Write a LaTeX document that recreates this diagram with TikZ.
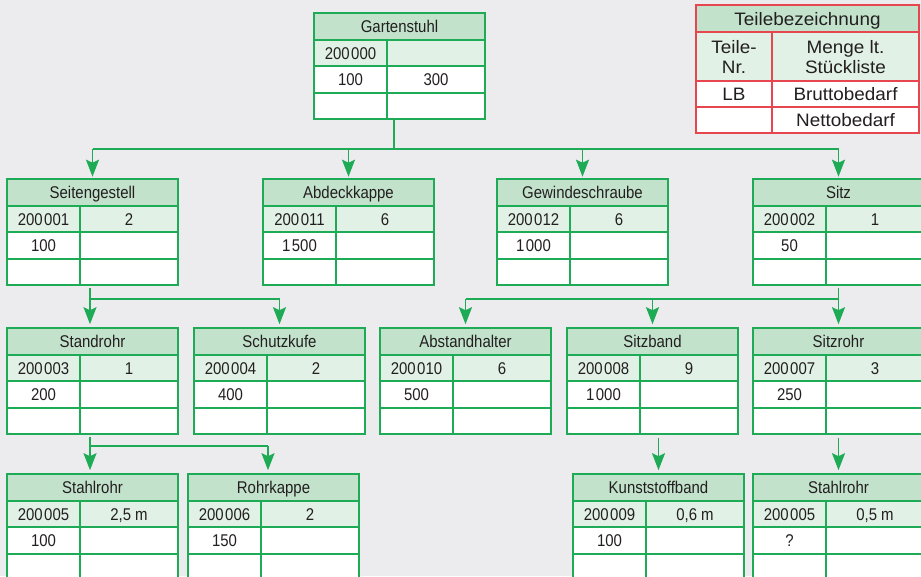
\documentclass[tikz,border=0pt]{standalone}
\usepackage{fontspec}
\setmainfont{Liberation Sans}
\newfontfamily\condfont{Liberation Sans}[FakeStretch=0.88]
\newfontfamily\legfont{Liberation Sans}[FakeStretch=1.05]
\usetikzlibrary{arrows.meta}
\definecolor{grn}{HTML}{1DAB55}
\definecolor{hdr}{HTML}{C2E2CB}
\definecolor{sub}{HTML}{E1F1E5}
\definecolor{bg}{HTML}{ECECEE}
\definecolor{lred}{HTML}{E8464F}
\definecolor{txt}{HTML}{231F20}
\newcommand\pbox[7]{%
  \fill[hdr] (#2,#3) rectangle (#2+171,#3+27);
  \fill[sub] (#2,#3+27) rectangle (#2+171,#3+53);
  \fill[white] (#2,#3+53) rectangle (#2+171,#3+106);
  \draw[gridline] (#2,#3+27) -- (#2+171,#3+27) (#2,#3+53) -- (#2+171,#3+53)
     (#2,#3+80) -- (#2+171,#3+80) (#2+73,#3+27) -- (#2+73,#3+106);
  \node[frame] (#1) at (#2+85.5,#3+53) {};
  \node[bt] (#1-t) at (#2+85.5,#3+13.5) {#4};
  \node[bt] (#1-n) at (#2+36.5,#3+40) {#5};
  \if\relax\detokenize{#6}\relax\else\node[bt] (#1-q) at (#2+122,#3+40) {#6};\fi
  \node[bt] (#1-l) at (#2+36.5,#3+66.5) {#7};
}
\begin{document}
\begin{tikzpicture}[x=1pt,y=-1pt,
  conn/.style={draw=grn, line width=1.6pt},
  arr/.style={conn, -{Stealth[length=17pt,width=13pt,inset=3pt]}, shorten >=3pt},
  gridline/.style={draw=grn, line width=1.4pt},
  frame/.style={draw=grn, line width=1.6pt, inner sep=0pt, minimum width=171pt, minimum height=106pt},
  legline/.style={draw=lred, line width=1.4pt},
  legframe/.style={draw=lred, line width=1.6pt, inner sep=0pt, minimum width=223pt, minimum height=128pt},
  bt/.style={font=\condfont\fontsize{17}{19}\selectfont, text=txt, inner sep=0pt, text height=12pt, text depth=0pt},
  lt/.style={font=\legfont\fontsize{18}{20}\selectfont, text=txt, inner sep=0pt, align=center}]
\useasboundingbox (0,0) rectangle (921,576);
\clip (0,0) rectangle (921,576);
\fill[bg] (0,0) rectangle (921,576);

% legend
\fill[hdr] (696,5) rectangle (919,32);
\fill[sub] (696,32) rectangle (919,81);
\fill[white] (696,81) rectangle (919,133);
\draw[legline] (696,32) -- (919,32) (696,81) -- (919,81) (696,107) -- (919,107) (772,32) -- (772,133);
\node[legframe] (leg) at (807.5,69) {};
\node[lt, text height=13pt, text depth=0pt] (leg-t) at (807.5,18.5) {Teilebezeichnung};
\node[lt] (leg-n) at (734,57) {Teile-\\Nr.};
\node[lt] (leg-m) at (845.5,57) {Menge lt.\\Stückliste};
\node[lt, text height=13pt, text depth=0pt] (leg-lb) at (734,94) {LB};
\node[lt, text height=13pt, text depth=0pt] (leg-b) at (845.5,94) {Bruttobedarf};
\node[lt, text height=13pt, text depth=0pt] (leg-nb) at (845.5,120) {Nettobedarf};

% boxes
\pbox{gs}{314}{13}{Gartenstuhl}{200\kern1.5pt000}{}{100}
\node[bt] (gs-q2) at (314+122,13+66.5) {300};

\pbox{sg}{7}{179}{Seitengestell}{200\kern1.5pt001}{2}{100}
\pbox{ak}{263}{179}{Abdeckkappe}{200\kern1.5pt011}{6}{1\kern1.5pt500}
\pbox{gw}{497}{179}{Gewindeschraube}{200\kern1.5pt012}{6}{1\kern1.5pt000}
\pbox{sitz}{753}{179}{Sitz}{200\kern1.5pt002}{1}{50}

\pbox{sr}{7}{328}{Standrohr}{200\kern1.5pt003}{1}{200}
\pbox{sk}{194}{328}{Schutzkufe}{200\kern1.5pt004}{2}{400}
\pbox{ah}{380}{328}{Abstandhalter}{200\kern1.5pt010}{6}{500}
\pbox{sb}{567}{328}{Sitzband}{200\kern1.5pt008}{9}{1\kern1.5pt000}
\pbox{sro}{753}{328}{Sitzrohr}{200\kern1.5pt007}{3}{250}

\pbox{st1}{7}{474}{Stahlrohr}{200\kern1.5pt005}{2,5 m}{100}
\pbox{rk}{188}{474}{Rohrkappe}{200\kern1.5pt006}{2}{150}
\pbox{kb}{573}{474}{Kunststoffband}{200\kern1.5pt009}{0,6 m}{100}
\pbox{st2}{753}{474}{Stahlrohr}{200\kern1.5pt005}{0,5 m}{?}

% connectors level 0 -> 1
\draw[conn] ([xshift=-5.5pt]gs.south) -- ++(0,29) coordinate (j0);
\draw[conn] (j0 -| sg.north) -- (j0 -| sitz.north);
\foreach \n in {sg,ak,gw,sitz} \draw[arr, shorten >=1.5pt] (j0 -| \n.north) -- (\n.north);

% Seitengestell -> Standrohr, Schutzkufe
\draw[conn, shorten <=2pt] ([xshift=-2.5pt]sg.south) -- ++(0,13) coordinate (j1);
\draw[conn] (j1) -- (j1 -| sk.north);
\draw[arr] (j1) -- (j1 |- sr.north);
\draw[arr] (j1 -| sk.north) -- (sk.north);

% Sitz -> Abstandhalter, Sitzband, Sitzrohr
\draw[conn, shorten <=2pt] (sitz.south) -- ++(0,13) coordinate (j2);
\draw[conn] (j2) -- (j2 -| ah.north);
\foreach \n in {ah,sb,sro} \draw[arr] (j2 -| \n.north) -- (\n.north);

% Standrohr -> Stahlrohr, Rohrkappe
\coordinate (rkin) at ([xshift=-5.5pt]rk.north);
\draw[conn, shorten <=2pt] ([xshift=-2.5pt]sr.south) -- ++(0,11) coordinate (j3);
\draw[conn] (j3) -- (j3 -| rkin);
\draw[arr] (j3) -- (j3 |- st1.north);
\draw[arr] (j3 -| rkin) -- (rkin);

% Sitzband -> Kunststoffband, Sitzrohr -> Stahlrohr
\draw[arr, shorten <=3pt] (kb.north |- sb.south) -- (kb.north);
\draw[arr, shorten <=3pt] (sro.south) -- (st2.north);
\end{tikzpicture}
\end{document}
